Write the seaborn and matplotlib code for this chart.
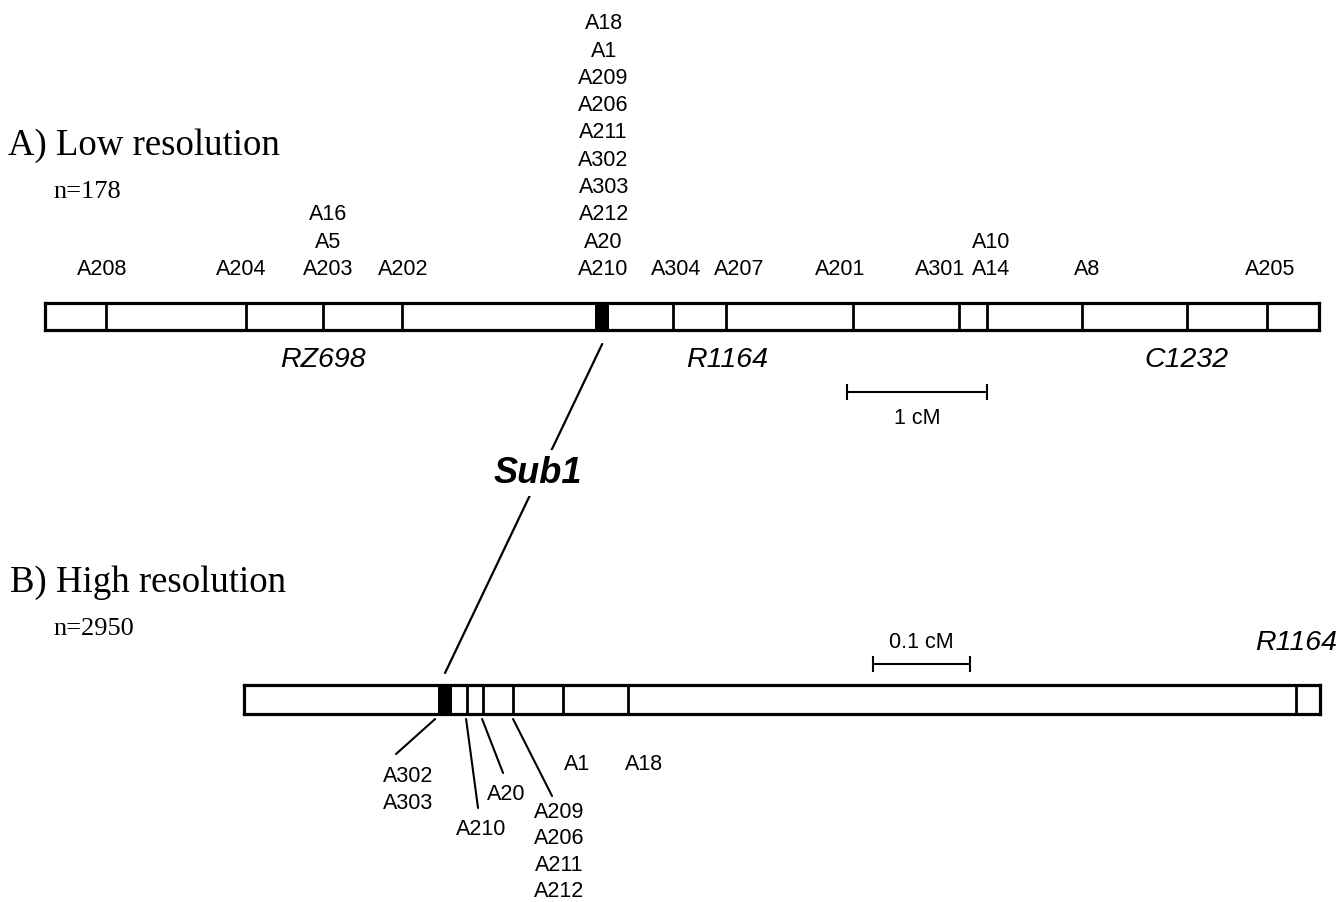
import matplotlib
matplotlib.use("Agg")
import matplotlib.pyplot as plt
import seaborn as sns
from matplotlib.patches import ConnectionPatch

# ---------------- data ----------------
# A) low resolution map (positions in cM from the left end of the bar)
top_length_cm = 9.1
top_div_cm = [0.436, 1.436, 1.986, 2.55, 4.486, 4.864, 5.771, 6.529, 6.729, 7.407, 8.157, 8.729]
top_sub1_cm = (3.93, 4.03)
top_label_cm = [0.41, 1.40, 2.02, 2.56, 3.99, 4.51, 4.96, 5.68, 6.39, 6.76, 7.44, 8.75]
top_label_groups = [["A208"], ["A204"], ["A16", "A5", "A203"], ["A202"],
                    ["A18", "A1", "A209", "A206", "A211", "A302", "A303", "A212", "A20", "A210"],
                    ["A304"], ["A207"], ["A201"], ["A301"], ["A10", "A14"], ["A8"], ["A205"]]
top_rflp = ["RZ698", "R1164", "C1232"]
top_rflp_cm = [1.986, 4.87, 8.157]
top_scale_start_cm, top_scale_len_cm, top_scale_text = 5.729, 1.0, "1 cM"

# B) high resolution map
bot_length_cm = 1.109
bot_div_cm = [0.2299, 0.2464, 0.2773, 0.3289, 0.3959, 1.0845]
bot_sub1_cm = (0.200, 0.2144)
bot_groups = [["A302", "A303"], ["A210"], ["A20"], ["A209", "A206", "A211", "A212"], ["A1"], ["A18"]]
bot_label_cm = [0.169, 0.2443, 0.270, 0.3247, 0.3433, 0.4124]
bot_leader_from_cm = [0.197, 0.2289, 0.2454, 0.2773, None, None]
bot_leader_to_cm = [0.1567, 0.2412, 0.267, 0.3175, None, None]
bot_rflp = ["R1164"]
bot_rflp_cm = [1.0845]
bot_scale_start_cm, bot_scale_len_cm, bot_scale_text = 0.6485, 0.1, "0.1 cM"

# ---------------- style ----------------
sns.set_style("white")
SANS = ["Liberation Sans", "DejaVu Sans"]
SERIF = ["Liberation Serif", "DejaVu Serif"]
plt.rcParams["font.family"] = SANS
plt.rcParams["text.color"] = "black"

W, H = 1340, 903
fig = plt.figure(figsize=(W / 100, H / 100), dpi=100)


def px_axes(x0, y0, x1, y1):
    return fig.add_axes([x0 / W, 1 - y1 / H, (x1 - x0) / W, (y1 - y0) / H])


def draw_bar(x0, y0, x1, y1, length, divs, band):
    ax = px_axes(x0, y0, x1, y1)
    sns.rugplot(x=divs, height=1, ax=ax, color="black", linewidth=2.0, expand_margins=False)
    ax.axvspan(band[0], band[1], color="black", lw=0)
    ax.set_xlim(0, length)
    ax.set_ylim(0, 1)
    ax.set_xticks([]); ax.set_yticks([])
    ax.set_xlabel(""); ax.set_ylabel("")
    for s in ax.spines.values():
        s.set_visible(True); s.set_linewidth(2.3); s.set_color("black")
    # overlay with the same cM scale across the whole figure, y in pixels
    ppc = (x1 - x0) / length
    ov = fig.add_axes([0, 0, 1, 1])
    ov.set_xlim(-x0 / ppc, (W - x0) / ppc)
    ov.set_ylim(H, 0)
    ov.patch.set_alpha(0)
    ov.axis("off")
    return ax, ov


barA, ovA = draw_bar(45, 304, 1319, 331, top_length_cm, top_div_cm, top_sub1_cm)
barB, ovB = draw_bar(244, 686, 1320, 715, bot_length_cm, bot_div_cm, bot_sub1_cm)

ax_px = fig.add_axes([0, 0, 1, 1])
ax_px.set_xlim(0, W); ax_px.set_ylim(H, 0)
ax_px.patch.set_alpha(0); ax_px.axis("off")

LBL = 15.5
RFLP = 20.5
# top marker labels
for xc, grp in zip(top_label_cm, top_label_groups):
    for i, name in enumerate(reversed(grp)):
        ovA.text(xc, 275 - i * 27.3, name, ha="center", va="baseline", fontsize=LBL)
for name, xc in zip(top_rflp, top_rflp_cm):
    ovA.text(xc, 360, name, ha="center", va="center", fontsize=RFLP, style="italic")

# top scale bar
ovA.plot([top_scale_start_cm, top_scale_start_cm + top_scale_len_cm], [393, 393], color="black", lw=1.5)
ovA.vlines([top_scale_start_cm, top_scale_start_cm + top_scale_len_cm], 385, 401, color="black", lw=1.5)
ovA.text(top_scale_start_cm + top_scale_len_cm / 2, 419, top_scale_text, ha="center", va="center", fontsize=LBL)

# bottom labels
for grp, xc, lf, lt in zip(bot_groups, bot_label_cm, bot_leader_from_cm, bot_leader_to_cm):
    if len(grp) == 1 and grp[0] in ("A1", "A18"):
        ys = [770]
    elif grp[0] == "A302":
        ys = [782, 809]
    elif grp[0] == "A210":
        ys = [835]
    elif grp[0] == "A20":
        ys = [800]
    else:
        ys = [818 + i * 26.5 for i in range(len(grp))]
    for name, y in zip(grp, ys):
        ovB.text(xc, y, name, ha="center", va="baseline", fontsize=LBL)
    if lf is not None:
        yend = {"A302": 755, "A210": 809, "A20": 774}.get(grp[0], 797)
        ovB.plot([lf, lt], [720, yend], color="black", lw=1.5)
for name, xc in zip(bot_rflp, bot_rflp_cm):
    ovB.text(xc, 643, name, ha="center", va="center", fontsize=RFLP, style="italic")

# bottom scale bar
ovB.plot([bot_scale_start_cm, bot_scale_start_cm + bot_scale_len_cm], [665, 665], color="black", lw=1.5)
ovB.vlines([bot_scale_start_cm, bot_scale_start_cm + bot_scale_len_cm], 657, 673, color="black", lw=1.5)
ovB.text(bot_scale_start_cm + bot_scale_len_cm / 2, 643, bot_scale_text, ha="center", va="center", fontsize=LBL)

# Sub1 connecting line
con = ConnectionPatch(xyA=(sum(top_sub1_cm) / 2, 345), coordsA=ovA.transData,
                      xyB=(sum(bot_sub1_cm) / 2, 674), coordsB=ovB.transData,
                      color="black", lw=1.6, zorder=1)
con.set_clip_on(False)
ax_px.add_artist(con)
ax_px.text(538, 474, "Sub1", ha="center", va="center", fontsize=26, weight="bold", style="italic",
           zorder=3, bbox=dict(facecolor="white", edgecolor="none", pad=4))

# titles
ax_px.text(8, 155, "A) Low resolution", ha="left", va="baseline", fontsize=26.5, family=SERIF)
ax_px.text(53, 198, "n=178", ha="left", va="baseline", fontsize=19, family=SERIF)
ax_px.text(10, 592, "B) High resolution", ha="left", va="baseline", fontsize=26.5, family=SERIF)
ax_px.text(53, 635, "n=2950", ha="left", va="baseline", fontsize=19, family=SERIF)

fig.savefig("out.png", dpi=100)
